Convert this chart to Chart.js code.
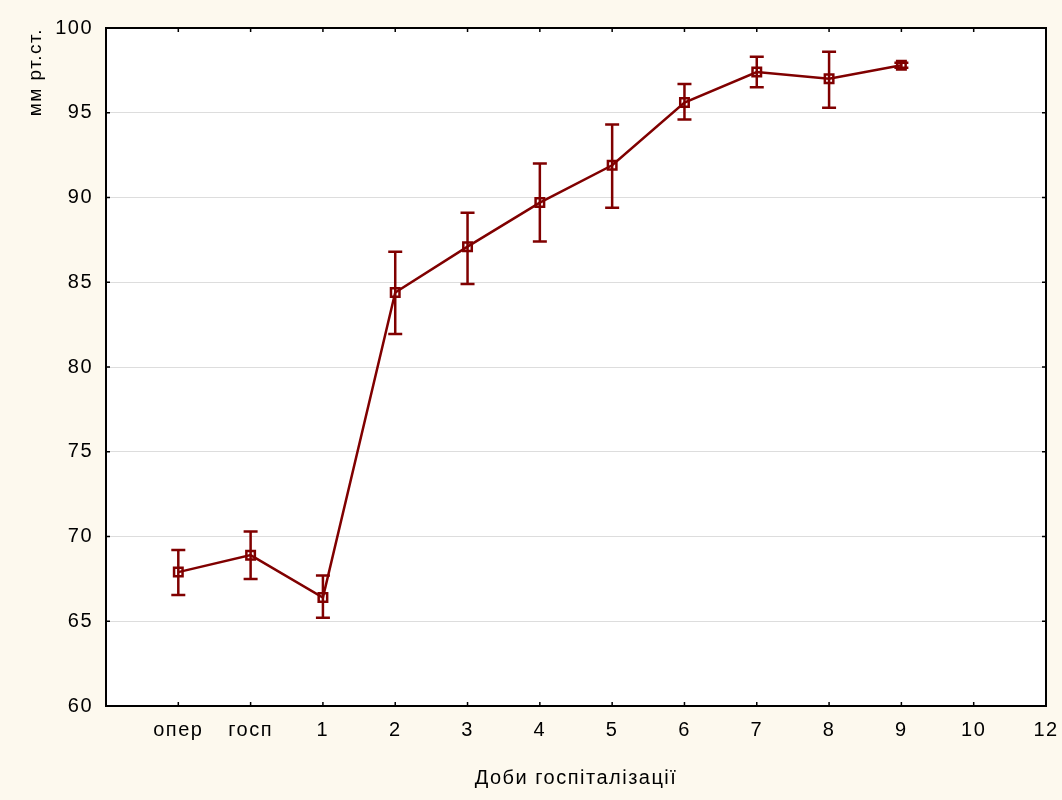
<!DOCTYPE html>
<html>
<head>
<meta charset="utf-8">
<script src="https://cdn.jsdelivr.net/npm/chart.js@4/dist/chart.umd.min.js"></script>
<style>
  body { margin: 0; background: #fdf9ee; }
  #wrap { width: 1062px; height: 800px; }
</style>
</head>
<body>
<div id="wrap"><canvas id="myChart" width="1062" height="800"></canvas></div>
<script>
// tick labels along the x axis (position 0 is the empty left edge)
let xLabels = ['', 'опер', 'госп', '1', '2', '3', '4', '5', '6', '7', '8', '9', '10', '12'];

// measured days (x positions) and mean values
let days  = [1, 2, 3, 4, 5, 6, 7, 8, 9, 10, 11];
let means = [67.9, 68.9, 66.4, 84.4, 87.1, 89.7, 91.9, 95.6, 97.4, 97.0, 97.8];
// upper and lower whiskers
let upper = [69.2, 70.3, 67.7, 86.8, 89.1, 92.0, 94.3, 96.7, 98.3, 98.6, 97.95];
let lower = [66.55, 67.5, 65.2, 81.95, 84.9, 87.4, 89.4, 94.6, 96.5, 95.3, 97.65];

let red = '#800000';
let txt = { family: 'Liberation Sans', size: 20 };

let points = [];
for (let i = 0; i < days.length; i++) {
  points.push({ x: days[i], y: means[i] });
}

// wider letter spacing, like the original software
let spacing = {
  id: 'spacing',
  beforeInit(chart) { chart.ctx.letterSpacing = '1.5px'; },
  beforeLayout(chart) { chart.ctx.letterSpacing = '1.5px'; },
  beforeDraw(chart) { chart.ctx.letterSpacing = '1.5px'; }
};

// white plot area with a black frame, error bars and inward ticks
let frame = {
  id: 'frame',
  beforeDraw(chart) {
    let c = chart.ctx, a = chart.chartArea;
    c.save();
    c.fillStyle = '#ffffff';
    c.fillRect(a.left, a.top, a.right - a.left, a.bottom - a.top);
    c.restore();
  },
  afterDatasetsDraw(chart) {
    let c = chart.ctx, a = chart.chartArea;
    let xs = chart.scales.x, ys = chart.scales.y;
    c.save();
    // error bars
    c.strokeStyle = red;
    c.lineWidth = 2.5;
    for (let i = 0; i < days.length; i++) {
      let px = xs.getPixelForValue(days[i]);
      let pt = ys.getPixelForValue(upper[i]);
      let pb = ys.getPixelForValue(lower[i]);
      c.beginPath();
      c.moveTo(px, pt); c.lineTo(px, pb);
      c.moveTo(px - 7, pt); c.lineTo(px + 7, pt);
      c.moveTo(px - 7, pb); c.lineTo(px + 7, pb);
      c.stroke();
    }
    // frame
    c.strokeStyle = '#000000';
    c.lineWidth = 2;
    c.strokeRect(a.left, a.top, a.right - a.left, a.bottom - a.top);
    // small inward ticks
    c.lineWidth = 1.5;
    c.beginPath();
    for (let i = 1; i < xLabels.length - 1; i++) {
      let px = xs.getPixelForValue(i);
      c.moveTo(px, a.bottom); c.lineTo(px, a.bottom - 4);
      c.moveTo(px, a.top); c.lineTo(px, a.top + 4);
    }
    for (let v = 65; v < 100; v += 5) {
      let py = ys.getPixelForValue(v);
      c.moveTo(a.left, py); c.lineTo(a.left + 4, py);
      c.moveTo(a.right, py); c.lineTo(a.right - 4, py);
    }
    c.stroke();
    c.restore();
  }
};

let options = {
  type: 'line',
  data: {
    datasets: [{
      data: points,
      borderColor: red,
      borderWidth: 2.5,
      backgroundColor: 'rgba(0,0,0,0)',
      pointStyle: 'rect',
      pointRadius: 6,
      pointBorderWidth: 2.5,
      pointBorderColor: red,
      pointBackgroundColor: 'rgba(0,0,0,0)',
      fill: false,
      tension: 0
    }]
  },
  options: {
    responsive: false,
    animation: false,
    layout: { padding: { top: 28, right: 16, left: 0, bottom: 0 } },
    plugins: { legend: { display: false }, tooltip: { enabled: false } },
    scales: {
      x: {
        type: 'linear',
        min: 0,
        max: 13,
        afterFit(s) { s.height = 94; s.paddingLeft = 0; s.paddingRight = 0; },
        grid: { display: false, drawTicks: false },
        border: { display: false },
        ticks: {
          stepSize: 1,
          autoSkip: false,
          maxRotation: 0,
          padding: 12,
          color: '#000',
          font: txt,
          callback: function(v) { return xLabels[v]; }
        },
        title: {
          display: true,
          text: 'Доби госпіталізації',
          color: '#000',
          font: txt,
          padding: { top: 0, bottom: 10 }
        }
      },
      y: {
        min: 60,
        max: 100,
        afterFit(s) { s.width = 106; },
        grid: { color: '#dddddd', lineWidth: 1, drawTicks: false },
        border: { display: false },
        ticks: {
          stepSize: 5,
          padding: 13,
          color: '#000',
          font: txt
        },
        title: {
          display: true,
          text: 'мм рт.ст.',
          align: 'end',
          color: '#000',
          font: { family: 'Liberation Sans', size: 19 },
          padding: { top: 24, bottom: 0 }
        }
      }
    }
  },
  plugins: [spacing, frame]
};

let mChart = new Chart(document.getElementById('myChart'), options);
</script>
</body>
</html>
